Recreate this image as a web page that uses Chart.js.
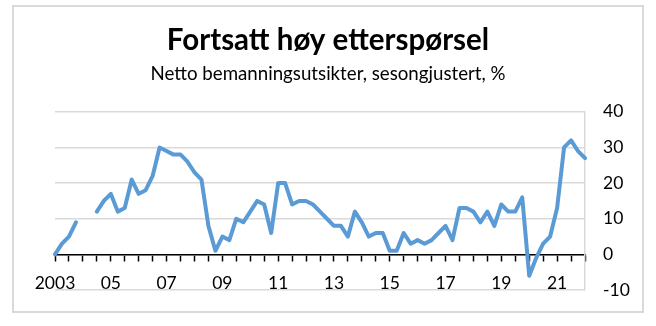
<!DOCTYPE html>
<html>
<head>
<meta charset="utf-8">
<script src="https://cdn.jsdelivr.net/npm/chart.js@4/dist/chart.umd.min.js"></script>
<style>
  body { margin: 0; background: #fff; overflow: hidden; }
  #wrap { position: relative; width: 656px; height: 326px; }
  #frame { position: absolute; left: 12px; top: 5px; width: 628px; height: 304px;
           border: 2px solid #d9d9d9; pointer-events: none; }
</style>
</head>
<body>
<div id="wrap">
  <canvas id="chart"></canvas>
  <div id="frame"></div>
</div>
<script>
// Kvartalsdata 2003K1 - 2022K1
const quarters = [];
for (let y = 2003; y <= 2022; y++) {
    for (let q = 1; q <= 4; q++) {
        if (y === 2022 && q > 1) break;
        quarters.push(y + 'K' + q);
    }
}

const netOutlook = [
    0, 3, 5, 9, null, null, 12, 15, 17, 12, 13, 21,            // 2003-2005
    17, 18, 22, 30, 29, 28, 28, 26, 23, 21, 8, 1,              // 2006-2008
    5, 4, 10, 9, 12, 15, 14, 6, 20, 20, 14, 15,                // 2009-2011
    15, 14, 12, 10, 8, 8, 5, 12, 9, 5, 6, 6,                   // 2012-2014
    1, 1, 6, 3, 4, 3, 4, 6, 8, 4, 13, 13,                      // 2015-2017
    12, 9, 12, 8, 14, 12, 12, 16, -6, -1, 3, 5,                // 2018-2020
    13, 30, 32, 29, 27                                         // 2021-2022K1
];

const xTickLabels = ['2003', '05', '07', '09', '11', '13', '15', '17', '19', '21'];
const yTicks = [-10, 0, 10, 20, 30, 40];

const ctx = document.getElementById('chart').getContext('2d');
new Chart(ctx, {
    type: 'line',
    data: {
        labels: quarters,
        datasets: [{
            data: netOutlook,
            borderColor: '#5b9bd5',
            borderWidth: 4,
            pointRadius: 0,
            tension: 0,
            spanGaps: false,
            borderJoinStyle: 'round',
            borderCapStyle: 'round'
        }]
    },
    options: {
        responsive: true,
        maintainAspectRatio: false,
        animation: false,
        layout: { padding: { left: 0, right: 0, top: 0, bottom: 36 } },
        plugins: {
            legend: { display: false },
            tooltip: { enabled: false },
            title: {
                display: true,
                text: 'Fortsatt høy etterspørsel',
                color: '#000',
                font: { family: 'Lato', size: 29.5, weight: 'bold' },
                padding: { top: 23, bottom: 0 }
            },
            subtitle: {
                display: true,
                text: 'Netto bemanningsutsikter, sesongjustert, %',
                color: '#000',
                font: { family: 'Lato', size: 18.7 },
                padding: { top: 4, bottom: 27 }
            }
        },
        scales: {
            x: {
                type: 'category',
                position: { y: 0 },
                grid: {
                    drawOnChartArea: false,
                    drawTicks: true,
                    tickLength: 6,
                    tickWidth: 1.5,
                    tickColor: c => (c.index % 2 === 0 ? '#000' : 'rgba(0,0,0,0)')
                },
                border: { color: '#000', width: 1.5 },
                ticks: {
                    autoSkip: false,
                    maxRotation: 0,
                    padding: 12,
                    color: '#000',
                    font: { family: 'Lato', size: 17.5 },
                    callback: (v, i) => (i % 8 === 0 ? xTickLabels[i / 8] : '')
                }
            },
            // tom venstre akse som bare holder plass
            yLeft: {
                position: 'left',
                min: yTicks[0],
                max: yTicks[yTicks.length - 1],
                afterFit: s => { s.width = 55; },
                grid: { display: false },
                border: { display: false },
                ticks: { display: false }
            },
            y: {
                position: 'right',
                min: yTicks[0],
                max: yTicks[yTicks.length - 1],
                afterFit: s => { s.width = 71; },
                afterBuildTicks: s => { s.ticks = yTicks.map(v => ({ value: v })); },
                grid: { color: '#d9d9d9', lineWidth: 1.5, drawTicks: false },
                border: { color: '#d9d9d9', width: 1.5 },
                ticks: {
                    padding: 18,
                    color: '#000',
                    font: { family: 'Lato', size: 17.5 }
                }
            }
        }
    }
});
</script>
</body>
</html>
